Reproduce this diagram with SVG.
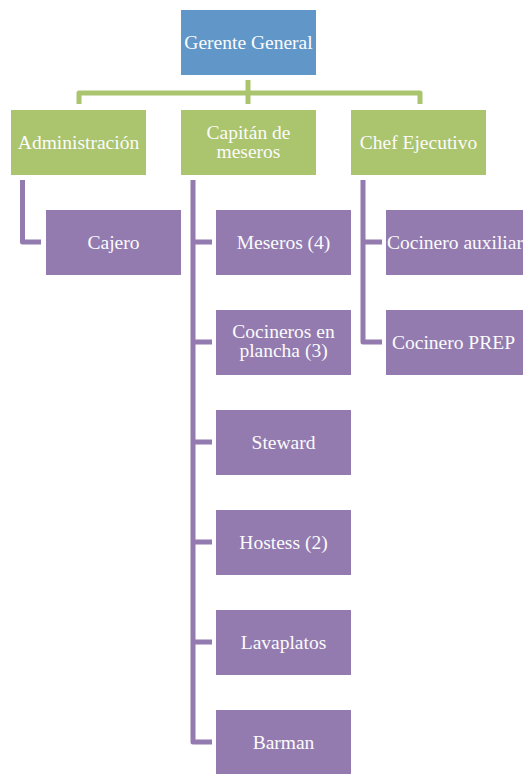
<svg xmlns="http://www.w3.org/2000/svg" width="523" height="774" viewBox="0 0 523 774">
<style>
.t{font-family:"Liberation Serif","Times New Roman",serif;font-size:19.5px;fill:#fbfbfb;text-anchor:middle}
.b{fill:#6096c8}
.g{fill:#abc46e}
.p{fill:#937bb0}
.cg{fill:none;stroke:#abc46e;stroke-width:5;stroke-linejoin:round}
.cp{fill:none;stroke:#937bb0;stroke-width:5;stroke-linejoin:round}
</style>
<rect width="523" height="774" fill="#ffffff"/>
<g id="connectors">
<path class="cg" d="M248,80 V104 M79,104 V93 H420 V104"/>
<path class="cp" d="M22.5,180 V242 H41"/>
<path class="cp" d="M193,180 V742 H212 M193,242 H212 M193,342 H212 M193,442 H212 M193,542 H212 M193,642 H212"/>
<path class="cp" d="M363,180 V342 H382 M363,242 H382"/>
</g>
<g id="gerente"><rect class="b" x="181" y="10" width="135" height="65"/><text class="t" x="248.5" y="49">Gerente General</text></g>
<g id="admin"><rect class="g" x="11" y="110" width="135" height="65"/><text class="t" x="78.5" y="149">Administración</text></g>
<g id="capitan"><rect class="g" x="181" y="110" width="135" height="65"/><text class="t" x="248.5" y="139">Capitán de</text><text class="t" x="248.5" y="158">meseros</text></g>
<g id="chef"><rect class="g" x="351" y="110" width="135" height="65"/><text class="t" x="418.5" y="149">Chef Ejecutivo</text></g>
<g id="cajero"><rect class="p" x="46" y="210" width="135" height="65"/><text class="t" x="113.5" y="249">Cajero</text></g>
<g id="meseros"><rect class="p" x="216" y="210" width="135" height="65"/><text class="t" x="283.5" y="249">Meseros (4)</text></g>
<g id="cocineros"><rect class="p" x="216" y="310" width="135" height="65"/><text class="t" x="283.5" y="338">Cocineros en</text><text class="t" x="283.5" y="357">plancha (3)</text></g>
<g id="steward"><rect class="p" x="216" y="410" width="135" height="65"/><text class="t" x="283.5" y="449">Steward</text></g>
<g id="hostess"><rect class="p" x="216" y="510" width="135" height="65"/><text class="t" x="283.5" y="549">Hostess (2)</text></g>
<g id="lavaplatos"><rect class="p" x="216" y="610" width="135" height="65"/><text class="t" x="283.5" y="649">Lavaplatos</text></g>
<g id="barman"><rect class="p" x="216" y="710" width="135" height="65"/><text class="t" x="283.5" y="749">Barman</text></g>
<g id="auxiliar"><rect class="p" x="386" y="210" width="137" height="65"/><text class="t" x="455" y="249">Cocinero auxiliar</text></g>
<g id="prep"><rect class="p" x="386" y="310" width="137" height="65"/><text class="t" x="453.5" y="349">Cocinero PREP</text></g>
</svg>
